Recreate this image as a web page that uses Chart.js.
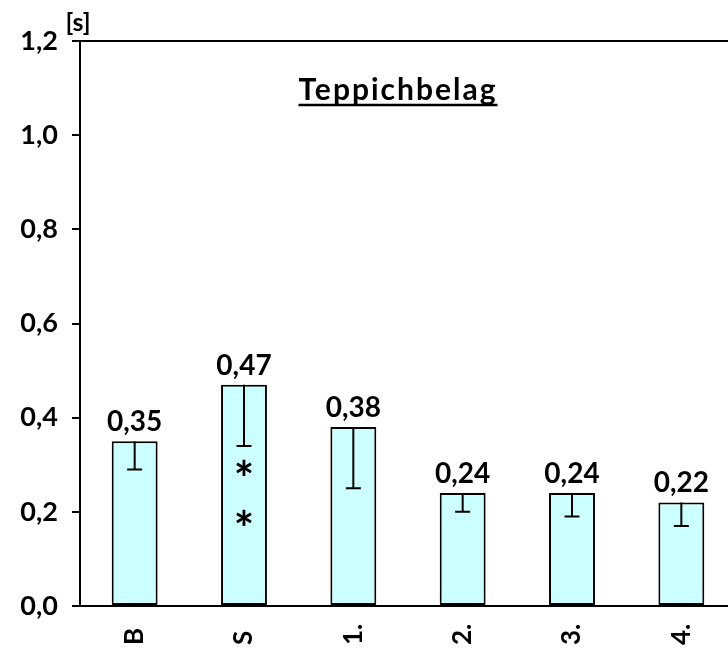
<!DOCTYPE html>
<html lang="de">
<head>
<meta charset="UTF-8">
<title>Teppichbelag</title>
<script src="https://cdn.jsdelivr.net/npm/chart.js"></script>
<style>
  html, body { margin: 0; padding: 0; background: #fff; overflow: hidden; }
  #wrap { width: 736px; height: 652px; }
</style>
</head>
<body>
<div id="wrap"><canvas id="chart"></canvas></div>
<script>
// Messwerte
const categories = ['B', 'S', '1.', '2.', '3.', '4.'];
const values = [0.35, 0.47, 0.38, 0.24, 0.24, 0.22];
const errors = [0.06, 0.13, 0.13, 0.04, 0.05, 0.05];
const yTicks = [0, 0.2, 0.4, 0.6, 0.8, 1.0, 1.2];
// Signifikanz-Sterne im S-Balken
const starIndex = 1;
const starValues = [0.294, 0.187];

const FONT = 'Lato, "Open Sans", sans-serif';
const fmt = v => v.toFixed(2).replace('.', ',');

const extras = {
  id: 'extras',
  afterDatasetsDraw(chart) {
    const ctx = chart.ctx;
    const y = chart.scales.y;
    const area = chart.chartArea;
    const bars = chart.getDatasetMeta(0).data;
    ctx.save();

    // top frame line
    ctx.strokeStyle = '#000';
    ctx.lineWidth = 2;
    ctx.beginPath();
    ctx.moveTo(area.left, area.top);
    ctx.lineTo(area.right, area.top);
    ctx.stroke();

    // error bars (nur nach unten)
    ctx.lineWidth = 2;
    bars.forEach((bar, i) => {
      const y1 = y.getPixelForValue(values[i] - errors[i]);
      ctx.beginPath();
      ctx.moveTo(bar.x, bar.y);
      ctx.lineTo(bar.x, y1);
      ctx.moveTo(bar.x - 7.5, y1);
      ctx.lineTo(bar.x + 7.5, y1);
      ctx.stroke();
    });

    // value labels
    ctx.fillStyle = '#000';
    ctx.font = 'bold 28px ' + FONT;
    ctx.textAlign = 'center';
    ctx.textBaseline = 'alphabetic';
    bars.forEach((bar, i) => {
      ctx.fillText(fmt(values[i]), bar.x, bar.y - 10);
    });

    // stars, centred on their value
    ctx.font = 'bold 48px ' + FONT;
    const m = ctx.measureText('*');
    const off = (m.actualBoundingBoxAscent - m.actualBoundingBoxDescent) / 2;
    starValues.forEach(v => {
      ctx.fillText('*', bars[starIndex].x, y.getPixelForValue(v) + off);
    });

    // category labels, rotated
    ctx.font = 'bold 26px ' + FONT;
    ctx.textAlign = 'left';
    ctx.textBaseline = 'middle';
    bars.forEach((bar, i) => {
      ctx.save();
      ctx.translate(bar.x, 645);
      ctx.rotate(-Math.PI / 2);
      ctx.fillText(categories[i], 0, 0);
      ctx.restore();
    });

    // title, underlined
    ctx.font = 'bold 30px ' + FONT;
    ctx.letterSpacing = '2px';
    ctx.textAlign = 'center';
    ctx.textBaseline = 'alphabetic';
    const title = 'Teppichbelag';
    const tx = 398, ty = 100;
    ctx.fillText(title, tx, ty);
    const w = ctx.measureText(title).width;
    ctx.lineWidth = 2.5;
    ctx.beginPath();
    ctx.moveTo(tx - w / 2, ty + 5);
    ctx.lineTo(tx + w / 2, ty + 5);
    ctx.stroke();
    ctx.letterSpacing = '0px';

    // unit
    ctx.font = 'bold 25px ' + FONT;
    ctx.fillText('[s]', 78, 31);
    ctx.restore();
  }
};

new Chart(document.getElementById('chart'), {
  type: 'bar',
  data: {
    labels: categories,
    datasets: [{
      data: values,
      backgroundColor: '#ccffff',
      borderColor: '#000',
      borderWidth: 2,
      borderSkipped: false,
      barPercentage: 0.42,
      categoryPercentage: 1
    }]
  },
  options: {
    responsive: true,
    maintainAspectRatio: false,
    animation: false,
    layout: { padding: { top: 41, right: 0, left: 0, bottom: 0 } },
    plugins: { legend: { display: false }, tooltip: { enabled: false } },
    scales: {
      x: {
        grid: { display: false },
        border: { color: '#000', width: 2 },
        ticks: { display: false },
        afterFit: s => { s.height = 46; }
      },
      y: {
        min: 0,
        max: 1.2,
        afterBuildTicks: s => { s.ticks = yTicks.map(v => ({ value: v })); },
        grid: { drawOnChartArea: false, tickLength: 8, color: '#000', lineWidth: 2 },
        border: { color: '#000', width: 2 },
        ticks: {
          color: '#000',
          padding: 14,
          font: { family: FONT, size: 27, weight: 'bold' },
          callback: v => v.toFixed(1).replace('.', ',')
        },
        afterFit: s => { s.width = 80; }
      }
    }
  },
  plugins: [extras]
});
</script>
</body>
</html>
